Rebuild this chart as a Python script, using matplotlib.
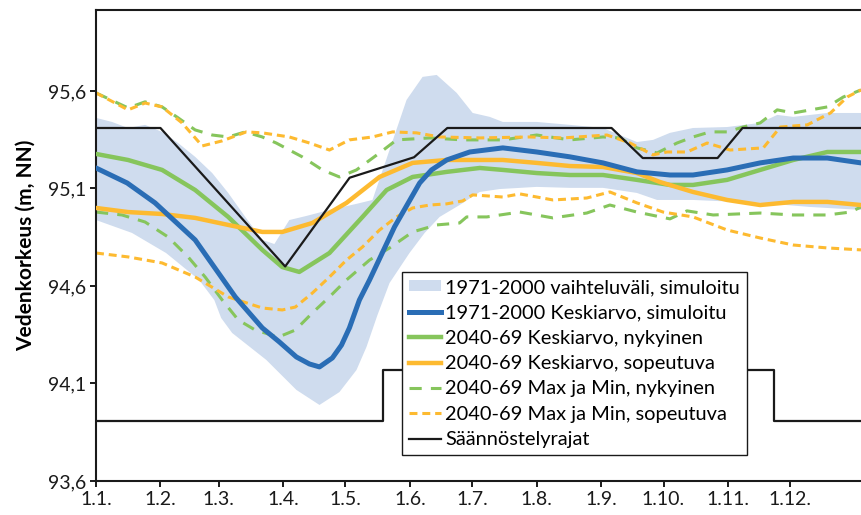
import numpy as np
import matplotlib
matplotlib.use("Agg")
import matplotlib.pyplot as plt
from matplotlib.patches import Patch
from matplotlib.lines import Line2D

plt.rcParams['font.family'] = ['Lato', 'DejaVu Sans']

# x = day of year (0 = 1.1.), y = water level (m, NN)
month_days = [0, 31, 59, 90, 120, 151, 181, 212, 243, 273, 304, 334]
month_labels = ['1.1.', '1.2.', '1.3.', '1.4.', '1.5.', '1.6.', '1.7.', '1.8.',
                '1.9.', '1.10.', '1.11.', '1.12.']
y_ticks = [93.6, 94.1, 94.6, 95.1, 95.6]
y_labels = ['93,6', '94,1', '94,6', '95,1', '95,6']

# 1971-2000 range, simulated (upper and lower edge)
band_up_x = [0, 7.7, 15.4, 23.6, 31.8, 39.5, 47.7, 55.9, 63.6, 71.8, 80, 85.8, 93, 101.2,
             112.3, 125.3, 133, 141.2, 149.4, 157.1, 163.9, 173.5, 181.2, 189.4, 195.7,
             212, 228, 243.9, 252, 260.2, 268, 276.1, 287.2, 303.6, 319.5, 327.7, 335.4,
             351.8, 368]
band_up_y = [95.462, 95.441, 95.41, 95.426, 95.39, 95.333, 95.262, 95.179, 95.077, 94.954,
             94.836, 94.815, 94.938, 94.959, 94.99, 95.021, 95.041, 95.297, 95.554, 95.672,
             95.682, 95.59, 95.487, 95.467, 95.441, 95.441, 95.426, 95.41, 95.374, 95.338,
             95.349, 95.385, 95.41, 95.415, 95.436, 95.477, 95.467, 95.487, 95.487]
band_lo_x = [0, 17.3, 33.7, 49.6, 56.9, 60.2, 65.5, 81.9, 96.4, 107.5, 117.1, 125.3, 130.1,
             135.4, 141.2, 150.8, 158.1, 165.3, 174.9, 184.6, 194.2, 212, 228, 243.9, 260.2,
             269.9, 287.2, 319.5, 343.6, 368]
band_lo_y = [94.938, 94.872, 94.769, 94.631, 94.528, 94.436, 94.359, 94.221, 94.067, 93.99,
             94.056, 94.169, 94.287, 94.451, 94.615, 94.769, 94.872, 94.954, 95.015, 95.082,
             95.097, 95.108, 95.103, 95.103, 95.077, 95.041, 95.041, 95.026, 95.005, 94.99]

# 1971-2000 mean, simulated
blue_x = [0, 15, 28.4, 47.7, 67, 80, 88.2, 96.4, 102.7, 107.5, 113.7, 118.1, 121.9, 126.7,
          131.6, 143.6, 155.7, 161.4, 168.7, 179.8, 195.7, 212, 228, 243.9, 260.2, 276.1,
          287.2, 303.6, 319.5, 335.4, 351.8, 368]
blue_y = [95.205, 95.128, 95.026, 94.836, 94.544, 94.385, 94.313, 94.236, 94.2, 94.185,
          94.231, 94.297, 94.385, 94.528, 94.631, 94.903, 95.128, 95.195, 95.246, 95.287,
          95.308, 95.287, 95.262, 95.231, 95.185, 95.169, 95.169, 95.195, 95.231, 95.256,
          95.256, 95.231]

# 2040-69 mean, current regulation
green_x = [0, 15.4, 31.8, 47.7, 63.6, 80, 89.6, 97.8, 112.3, 128.2, 139.8, 152.3, 168.7,
           184.6, 195.7, 212, 228, 243.9, 260.2, 276.1, 287.2, 303.6, 319.5, 335.4, 351.8, 368]
green_y = [95.277, 95.246, 95.195, 95.092, 94.954, 94.785, 94.697, 94.672, 94.769, 94.954,
           95.092, 95.159, 95.185, 95.205, 95.195, 95.179, 95.169, 95.169, 95.144, 95.118,
           95.118, 95.144, 95.195, 95.246, 95.287, 95.287]

# 2040-69 mean, adapted regulation
orange_x = [0, 15.4, 31.8, 47.7, 63.6, 80, 89.6, 104.1, 120.5, 136.4, 152.3, 168.7, 184.6,
            195.7, 212, 228, 243.9, 260.2, 271.3, 287.2, 303.6, 319.5, 335.4, 351.8, 368]
orange_y = [95.0, 94.979, 94.969, 94.949, 94.913, 94.877, 94.877, 94.923, 95.026, 95.159,
            95.231, 95.246, 95.246, 95.246, 95.231, 95.215, 95.21, 95.179, 95.133, 95.082,
            95.041, 95.015, 95.031, 95.031, 95.015]

# 2040-69 max and min, current regulation
gmax_x = [0, 15.4, 23.6, 31.8, 39.5, 47.7, 55.9, 63.6, 71.8, 80, 86.7, 99.2, 108.9, 117.1,
          125.3, 136.4, 144.6, 160.5, 176.4, 195.7, 212, 228, 243.9, 252, 260.2, 269.9,
          279.5, 287.2, 295.4, 303.6, 311.3, 319.5, 327.7, 335.4, 351.8, 359.5, 368]
gmax_y = [95.59, 95.513, 95.544, 95.518, 95.462, 95.4, 95.374, 95.364, 95.39, 95.364,
          95.333, 95.262, 95.195, 95.159, 95.195, 95.282, 95.349, 95.359, 95.349, 95.349,
          95.374, 95.349, 95.364, 95.359, 95.308, 95.282, 95.333, 95.364, 95.39, 95.39,
          95.415, 95.436, 95.503, 95.487, 95.518, 95.569, 95.605]
gmin_x = [0, 12.5, 23.6, 34.7, 44.3, 52.5, 60.7, 68.4, 76.6, 87.7, 95.9, 104.1, 112.3,
          120.5, 131.6, 141.2, 152.3, 163.9, 174.9, 178.3, 188, 203.9, 219.8, 236.1, 247.2,
          260.2, 276.1, 284.3, 296.9, 319.5, 335.4, 351.8, 362.9, 368]
gmin_y = [94.979, 94.964, 94.928, 94.851, 94.749, 94.646, 94.528, 94.426, 94.374, 94.338,
          94.374, 94.462, 94.544, 94.631, 94.733, 94.795, 94.877, 94.913, 94.923, 94.954,
          94.954, 94.979, 94.949, 94.974, 95.015, 94.979, 94.944, 94.985, 94.964, 94.974,
          94.964, 94.964, 94.979, 95.005]

# 2040-69 max and min, adapted regulation
omax_x = [0, 15.4, 23.6, 31.8, 41.4, 51.1, 60.7, 72.3, 80, 93, 102.7, 112.3, 121.9, 133,
          142.7, 154.2, 165.3, 184.6, 208.7, 224.6, 245.8, 256.9, 267.9, 274.7, 284.3, 294,
          305, 321, 329.2, 342.2, 353.3, 361.4, 368]
omax_y = [95.59, 95.503, 95.538, 95.518, 95.436, 95.318, 95.344, 95.39, 95.385, 95.364,
          95.333, 95.297, 95.349, 95.364, 95.39, 95.385, 95.364, 95.359, 95.364, 95.359,
          95.374, 95.333, 95.272, 95.287, 95.287, 95.333, 95.297, 95.308, 95.415, 95.426,
          95.487, 95.569, 95.605]
omin_x = [0, 15.4, 31.8, 47.7, 63.6, 80, 89.6, 95.9, 104.1, 112.3, 120.5, 128.2, 136.4,
          144.6, 152.3, 160.5, 168.7, 176.4, 181.2, 195.7, 203.9, 219.8, 236.1, 247.2, 260.2,
          272.8, 287.2, 303.6, 319.5, 335.4, 351.8, 368]
omin_y = [94.769, 94.749, 94.718, 94.646, 94.544, 94.487, 94.477, 94.492, 94.564, 94.646,
          94.733, 94.8, 94.887, 94.954, 95.0, 95.015, 95.021, 95.036, 95.067, 95.056, 95.072,
          95.041, 95.051, 95.082, 95.026, 94.979, 94.954, 94.887, 94.846, 94.81, 94.795,
          94.785]

# regulation limits
reg_up_x = [0, 31, 91, 122, 153, 169, 248, 263, 299, 311, 368]
reg_up_y = [95.41, 95.41, 94.70, 95.155, 95.26, 95.41, 95.41, 95.256, 95.256, 95.41, 95.41]
reg_lo_x = [0, 138, 138, 326, 326, 368]
reg_lo_y = [93.908, 93.908, 94.17, 94.17, 93.908, 93.908]

c_band = '#cfdcee'
c_blue = '#2a6db5'
c_green = '#86c55c'
c_orange = '#fdba30'
c_black = '#1a1a1a'

fig = plt.figure(figsize=(8.61, 5.15), dpi=100)
ax = fig.add_axes([0.1115, 0.066, 0.8885, 0.9146])

ax.fill(np.r_[band_up_x, band_lo_x[::-1]], np.r_[band_up_y, band_lo_y[::-1]],
        color=c_band, lw=0, zorder=1)
ax.plot(gmax_x, gmax_y, color=c_green, lw=2.2, ls=(0, (4, 3)), zorder=2)
ax.plot(gmin_x, gmin_y, color=c_green, lw=2.2, ls=(0, (4, 3)), zorder=2)
ax.plot(omax_x, omax_y, color=c_orange, lw=2.2, ls=(0, (2.6, 1.6)), zorder=2)
ax.plot(omin_x, omin_y, color=c_orange, lw=2.2, ls=(0, (2.6, 1.6)), zorder=2)
ax.plot(green_x, green_y, color=c_green, lw=3.2, zorder=3, solid_capstyle='round',
        solid_joinstyle='round')
ax.plot(orange_x, orange_y, color=c_orange, lw=3.2, zorder=3, solid_capstyle='round',
        solid_joinstyle='round')
ax.plot(blue_x, blue_y, color=c_blue, lw=3.6, zorder=3, solid_capstyle='round',
        solid_joinstyle='round')
ax.plot(reg_up_x, reg_up_y, color=c_black, lw=1.6, zorder=4)
ax.plot(reg_lo_x, reg_lo_y, color=c_black, lw=1.6, zorder=4)

ax.set_xlim(0, 368)
ax.set_ylim(93.6, 96.015)
ax.set_xticks(month_days)
ax.set_xticklabels(month_labels)
ax.set_yticks(y_ticks)
ax.set_yticklabels(y_labels)
ax.tick_params(axis='both', direction='out', length=4, width=1.4, labelsize=14,
               colors=c_black, pad=3)
ax.set_ylabel('Vedenkorkeus (m, NN)', fontsize=15, fontweight='bold', labelpad=9)
for side in ['left', 'bottom', 'top']:
    ax.spines[side].set_linewidth(1.5)
    ax.spines[side].set_color(c_black)
ax.spines['right'].set_visible(False)

handles = [
    Patch(facecolor=c_band, edgecolor='none'),
    Line2D([], [], color=c_blue, lw=3.6),
    Line2D([], [], color=c_green, lw=3.2),
    Line2D([], [], color=c_orange, lw=3.2),
    Line2D([], [], color=c_green, lw=2.2, ls=(0, (4, 3))),
    Line2D([], [], color=c_orange, lw=2.2, ls=(0, (2.6, 1.6))),
    Line2D([], [], color=c_black, lw=1.6),
]
labels = ['1971-2000 vaihteluväli, simuloitu', '1971-2000 Keskiarvo, simuloitu',
          '2040-69 Keskiarvo, nykyinen', '2040-69 Keskiarvo, sopeutuva',
          '2040-69 Max ja Min, nykyinen', '2040-69 Max ja Min, sopeutuva',
          'Säännöstelyrajat']
leg = ax.legend(handles, labels, loc='upper left', bbox_to_anchor=(0.4, 0.444),
                fontsize=14.4, frameon=True, fancybox=False, framealpha=1,
                edgecolor=c_black, handlelength=1.6, handleheight=0.5,
                handletextpad=0.2, labelspacing=0.42, borderpad=0.35,
                borderaxespad=0)
leg.get_frame().set_linewidth(1.0)

fig.savefig('out.png', dpi=100)
